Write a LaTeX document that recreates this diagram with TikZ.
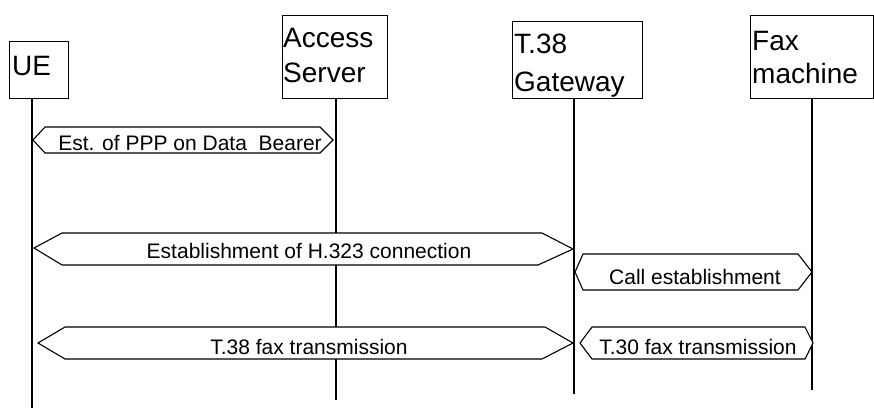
\documentclass[tikz,border=0pt]{standalone}
\usepackage{fontspec}
\setmainfont{Liberation Sans}
\tikzset{
  ent/.style={draw, line width=1.3pt, minimum width=#1, anchor=north west, inner sep=0pt},
  entlabel/.style={anchor=base west, inner sep=0pt, font=\fontsize{28}{34}\selectfont},
  life/.style={line width=1.3pt},
  hexmsg/.style={draw, fill=white, line width=1.1pt, line join=miter},
  msglabel/.style={anchor=base, inner sep=0pt, font=\fontsize{21}{24}\selectfont}
}
\begin{document}
\begin{tikzpicture}[x=1pt,y=-1pt]
\useasboundingbox (0,0) rectangle (874,408);
% entities
\node[ent=59pt, minimum height=57pt] (ue) at (9,41) {};
\node[ent=105pt, minimum height=83pt] (as) at (282,15) {};
\node[ent=130pt, minimum height=77pt] (gw) at (512,21) {};
\node[ent=123pt, minimum height=83pt] (fax) at (750,15) {};
\node[entlabel] (ueL) at (12,75) {UE};
\node[entlabel] (asL1) at (283,47) {Access};
\node[entlabel] (asL2) at (283,82) {Server};
\node[entlabel] (gwL1) at (514,53) {T.38};
\node[entlabel] (gwL2) at (514,91) {Gateway};
\node[entlabel] (faxL1) at (752,50) {Fax};
\node[entlabel] (faxL2) at (752,83) {machine};
% lifelines
\coordinate (ueT) at (32,98);   \coordinate (ueB) at (32,408);
\coordinate (asT) at (336,98);  \coordinate (asB) at (336,400);
\coordinate (gwT) at (574,98);  \coordinate (gwB) at (574,394);
\coordinate (faxT) at (812,98); \coordinate (faxB) at (812,390);
\draw[life] (ueT) -- (ueB);
\draw[life] (asT) -- (asB);
\draw[life] (gwT) -- (gwB);
\draw[life] (faxT) -- (faxB);
% messages
\draw[hexmsg] (33,140) -- (45,127) -- (320,127) -- (333,140) -- (320,153) -- (45,153) -- cycle;
\node[msglabel] (m1) at (190,150) {Est. of PPP on Data\ \ Bearer};
\draw[hexmsg] (34,248) -- (62,233) -- (542,233) -- (573,249) -- (538,265) -- (62,265) -- cycle;
\node[msglabel] (m2) at (309,258) {Establishment of H.323 connection};
\draw[hexmsg] (575,272) -- (583,254) -- (798,254) -- (812,272) -- (798,290) -- (583,290) -- cycle;
\node[msglabel] (m3) at (695,284) {Call establishment};
\draw[hexmsg] (38,343) -- (65,327) -- (545,327) -- (573,343) -- (542,359) -- (65,359) -- cycle;
\node[msglabel] (m4) at (309,354) {T.38 fax transmission};
\draw[hexmsg] (580,343) -- (592,327) -- (805,327) -- (813,343) -- (805,359) -- (592,359) -- cycle;
\node[msglabel] (m5) at (698,354) {T.30 fax transmission};
\end{tikzpicture}
\end{document}
